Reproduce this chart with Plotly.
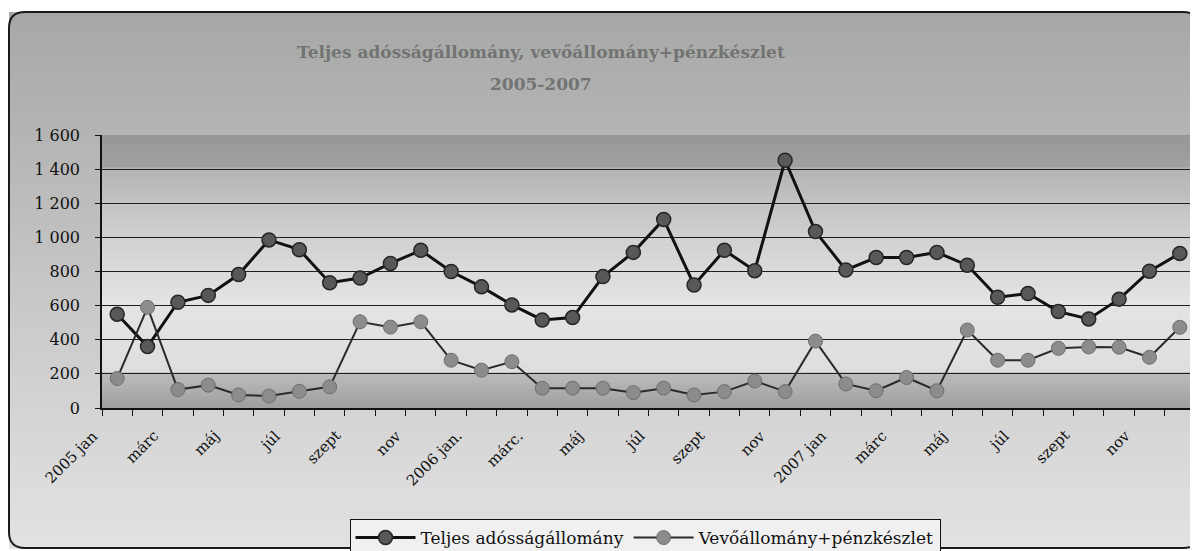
import plotly.graph_objects as go

months = ['2005 jan', 'febr', 'márc', 'ápr', 'máj', 'jún', 'júl', 'aug', 'szept', 'okt', 'nov', 'dec',
          '2006 jan.', 'febr', 'márc.', 'ápr', 'máj', 'jún', 'júl', 'aug', 'szept', 'okt', 'nov', 'dec',
          '2007 jan', 'febr', 'márc', 'ápr', 'máj', 'jún', 'júl', 'aug', 'szept', 'okt', 'nov', 'dec']

teljes = [550, 360, 620, 660, 782, 985, 928, 734, 762, 847,
          924, 800, 710, 604, 516, 530, 770, 912, 1105, 721,
          924, 805, 1452, 1034, 809, 882, 882, 912, 837, 649,
          671, 565, 522, 638, 802, 906]

vevo = [173, 590, 108, 134, 76, 70, 98, 124, 505, 474,
        505, 280, 222, 271, 116, 116, 116, 90, 116, 76,
        96, 158, 96, 392, 141, 101, 179, 101, 457, 280,
        280, 350, 358, 356, 297, 473]

tick_idx = list(range(0, 36, 2))
tick_text = [months[i] for i in tick_idx]

# geometry in page pixels (the page body has an 8px margin)
L, R, T, B = 102, 1195, 135, 408
PAGE_W, PAGE_H = 1198, 551
W, H = PAGE_W - 8, PAGE_H - 8


def px_x(px):
    return (px - L) / (R - L)


def px_y(py):
    return (B - py) / (B - T)


def mix(stops, v):
    for (a, ca), (b, cb) in zip(stops, stops[1:]):
        if a <= v <= b:
            t = (v - a) / (b - a) if b != a else 0
            c = [round(ca[k] + (cb[k] - ca[k]) * t) for k in range(3)]
            return 'rgb(%d,%d,%d)' % tuple(c)
    return 'rgb(%d,%d,%d)' % stops[-1][1]


shapes = []

# outer chart background, vertical gradient
outer_stops = [(12, (166, 168, 166)), (140, (180, 181, 180)), (300, (200, 200, 200)),
               (430, (214, 214, 214)), (549, (226, 226, 226))]
step = 6
for py in range(12, 549, step):
    shapes.append(dict(type='rect', xref='paper', yref='paper', layer='below',
                       x0=px_x(9), x1=px_x(1199), y0=px_y(py), y1=px_y(min(py + step + 2, 549)),
                       fillcolor=mix(outer_stops, py + 3), line=dict(width=0)))

# plot area background bands
plot_stops = [(0, (160, 160, 160)), (195, (188, 188, 188)), (205, (222, 222, 222)),
              (600, (228, 228, 228)), (1000, (208, 208, 208)), (1395, (180, 180, 180)),
              (1405, (160, 160, 160)), (1600, (150, 150, 150))]
for v in range(1580, -1, -20):
    shapes.append(dict(type='rect', xref='paper', yref='y', layer='below',
                       x0=0, x1=1, y0=v, y1=min(v + 30, 1600),
                       fillcolor=mix(plot_stops, v + 10), line=dict(width=0)))

# rounded frame of the chart
x0, x1, y0, y1, r = px_x(9), px_x(1199), px_y(12), px_y(548), 16
rx = r / (R - L)
ry = r / (B - T)
path = ('M %f,%f L %f,%f Q %f,%f %f,%f L %f,%f Q %f,%f %f,%f L %f,%f Q %f,%f %f,%f L %f,%f Q %f,%f %f,%f Z' % (
    x0 + rx, y0, x1 - rx, y0, x1, y0, x1, y0 - ry, x1, y1 + ry, x1, y1, x1 - rx, y1,
    x0 + rx, y1, x0, y1, x0, y1 + ry, x0, y0 - ry, x0, y0, x0 + rx, y0))
shapes.append(dict(type='path', xref='paper', yref='paper', path=path, layer='above',
                   line=dict(color='#1a1a1a', width=2)))

fig = go.Figure()
fig.add_trace(go.Scatter(x=list(range(36)), y=teljes, name='Teljes adósságállomány',
                         mode='lines+markers',
                         line=dict(color='#111111', width=3),
                         marker=dict(size=14, color='#585858', line=dict(color='#262626', width=1.5))))
fig.add_trace(go.Scatter(x=list(range(36)), y=vevo, name='Vevőállomány+pénzkészlet',
                         mode='lines+markers',
                         line=dict(color='#2a2a2a', width=2),
                         marker=dict(size=14, color='#8c8c8c', line=dict(color='#6e6e6e', width=1))))

serif = 'DejaVu Serif, Liberation Serif, serif'

annotations = [
    dict(text='<b>Teljes adósságállomány, vevőállomány+pénzkészlet</b>', xref='paper', yref='paper',
         x=px_x(541), y=px_y(40), showarrow=False,
         font=dict(family=serif, size=17, color='#737373')),
    dict(text='<b>2005-2007</b>', xref='paper', yref='paper',
         x=px_x(541), y=px_y(72), showarrow=False,
         font=dict(family=serif, size=17, color='#737373')),
]
# slanted month labels, ending at the left tick of their category
for i, t in zip(tick_idx, tick_text):
    annotations.append(dict(text=t, xref='x', yref='paper', x=i - 0.42, y=px_y(424),
                            xanchor='right', yanchor='top', textangle=-45, showarrow=False,
                            font=dict(family=serif, size=15, color='#111111')))

fig.update_layout(
    width=W, height=H,
    margin=dict(l=L - 8, r=PAGE_W - R, t=T - 8, b=PAGE_H - B, autoexpand=False),
    paper_bgcolor='white',
    plot_bgcolor='rgba(0,0,0,0)',
    separators=', ',
    font=dict(family=serif, size=15, color='#111111'),
    shapes=shapes,
    annotations=annotations,
    showlegend=True,
    legend=dict(orientation='h', x=px_x(645), xanchor='center', y=px_y(519), yanchor='top',
                bgcolor='#f0f0f0', bordercolor='#111111', borderwidth=1,
                font=dict(family=serif, size=17, color='#111111'),
                itemwidth=60, tracegroupgap=0),
)

fig.update_xaxes(range=[-0.5, 35.5], tickmode='array', tickvals=tick_idx, ticktext=tick_text,
                 showticklabels=False, ticks='', showgrid=False, zeroline=False,
                 showline=True, linecolor='#111111', linewidth=1.5,
                 minor=dict(tick0=-0.5, dtick=1, ticks='outside', ticklen=6, tickcolor='#111111',
                            tickwidth=1, showgrid=False))
fig.update_yaxes(range=[0, 1600], dtick=200, tickformat=',d', ticks='outside', ticklen=5,
                 tickcolor='#111111', showline=True, linecolor='#111111', linewidth=1.5,
                 showgrid=True, gridcolor='#1e1e1e', gridwidth=1, zeroline=False,
                 ticklabelstandoff=12,
                 tickfont=dict(family=serif, size=16, color='#111111'))

fig.write_html('out.html')
